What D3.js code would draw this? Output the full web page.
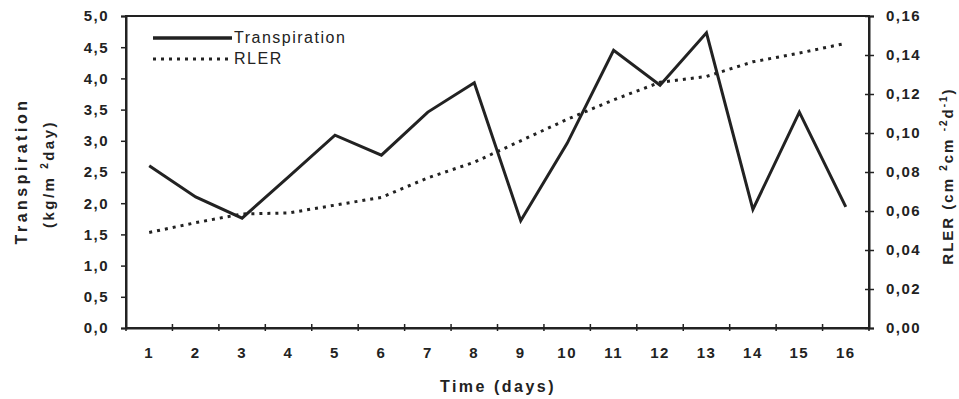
<!DOCTYPE html>
<html><head><meta charset="utf-8">
<script src="https://cdn.jsdelivr.net/npm/d3@7"></script>
<style>body{margin:0;background:#fff}svg text{font-family:"Liberation Sans",Arial,sans-serif;fill:#222}</style>
</head><body><svg id="c" width="959" height="399"></svg>
<script>
const days = [1,2,3,4,5,6,7,8,9,10,11,12,13,14,15,16];
const transpiration = [2.6,2.1,1.76,2.42,3.09,2.77,3.46,3.93,1.72,2.96,4.45,3.89,4.73,1.9,3.46,1.94];
const rler = [0.049,0.054,0.0585,0.059,0.063,0.067,0.077,0.085,0.096,0.107,0.117,0.126,0.129,0.1365,0.141,0.146];
const leftTicks = [0,0.5,1,1.5,2,2.5,3,3.5,4,4.5,5];
const rightTicks = [0,0.02,0.04,0.06,0.08,0.1,0.12,0.14,0.16];

const svg = d3.select("#c");
const L=126, R=869, T=16, B=328;
const x = d3.scaleBand().domain(days).range([L,R]);
const yL = d3.scaleLinear().domain([0,5]).range([B,T]);
const yR = d3.scaleLinear().domain([0,0.16]).range([B,T]);
const fmt1 = d => d3.format(".1f")(d).replace(".",",");
const fmt2 = d => d3.format(".2f")(d).replace(".",",");

// frame
svg.append("rect").attr("x",L).attr("y",T).attr("width",R-L).attr("height",B-T)
  .attr("fill","none").attr("stroke","#222").attr("stroke-width",2);

// left axis
const gl = svg.append("g").attr("transform",`translate(${L},0)`)
  .call(d3.axisLeft(yL).tickValues(leftTicks).tickFormat(fmt1).tickSize(5).tickPadding(12));
// right axis
const gr = svg.append("g").attr("transform",`translate(${R},0)`)
  .call(d3.axisRight(yR).tickValues(rightTicks).tickFormat(fmt2).tickSize(5).tickPadding(12));
gr.selectAll(".tick line").attr("x1",-4);
// bottom axis (ticks at band boundaries)
const gb = svg.append("g").attr("transform",`translate(0,${B})`)
  .call(d3.axisBottom(x).tickSize(0).tickPadding(19));
gb.selectAll(".tick").append("line").attr("x1",-x.bandwidth()/2).attr("x2",-x.bandwidth()/2)
  .attr("y1",-4).attr("y2",3).attr("stroke","#222").attr("stroke-width",1.5);
gb.append("line").attr("x1",R).attr("x2",R).attr("y1",-4).attr("y2",3).attr("stroke","#222").attr("stroke-width",1.5);

[gl,gr,gb].forEach(g=>{
  g.select(".domain").attr("stroke","#222").attr("stroke-width",2);
  g.selectAll(".tick line").attr("stroke","#222").attr("stroke-width",1.5);
  g.selectAll(".tick text").attr("font-size",15).attr("font-weight","bold").attr("fill","#333")
    .attr("font-family","'Liberation Sans',Arial,sans-serif").style("letter-spacing","1.5px");
});

const cx = d => x(d)+x.bandwidth()/2;
// RLER dotted
svg.append("path").datum(days.map((d,i)=>[d,rler[i]]))
  .attr("d",d3.line().x(p=>cx(p[0])).y(p=>yR(p[1])))
  .attr("fill","none").attr("stroke","#222").attr("stroke-width",3).attr("stroke-dasharray","3,5");
// Transpiration solid
svg.append("path").datum(days.map((d,i)=>[d,transpiration[i]]))
  .attr("d",d3.line().x(p=>cx(p[0])).y(p=>yL(p[1])))
  .attr("fill","none").attr("stroke","#222").attr("stroke-width",3).attr("stroke-linejoin","miter");

// legend
svg.append("line").attr("x1",153).attr("x2",232).attr("y1",38).attr("y2",38).attr("stroke","#222").attr("stroke-width",3.5);
svg.append("text").attr("x",234).attr("y",43).attr("font-size",16).style("letter-spacing","1.5px").text("Transpiration");
svg.append("line").attr("x1",153).attr("x2",232).attr("y1",59).attr("y2",59).attr("stroke","#222").attr("stroke-width",3).attr("stroke-dasharray","3,5");
svg.append("text").attr("x",234).attr("y",64).attr("font-size",16).style("letter-spacing","1.5px").text("RLER");

// axis titles
svg.append("text").attr("transform","translate(27,171) rotate(-90)").attr("text-anchor","middle")
  .attr("font-size",16).attr("font-weight","bold").style("letter-spacing","3.5px").text("Transpiration");
const t2 = svg.append("text").attr("transform","translate(54,174) rotate(-90)").attr("text-anchor","middle")
  .attr("font-size",15).attr("font-weight","bold").style("letter-spacing","2.5px");
t2.append("tspan").text("(kg/m ");
t2.append("tspan").attr("font-size",10).attr("dy",-6).text("2");
t2.append("tspan").attr("dy",6).text("day)");

const t3 = svg.append("text").attr("transform","translate(953,176) rotate(-90)").attr("text-anchor","middle")
  .attr("font-size",15).attr("font-weight","bold").style("letter-spacing","2px");
t3.append("tspan").text("RLER (cm ");
t3.append("tspan").attr("font-size",10).attr("dy",-6).text("2");
t3.append("tspan").attr("dy",6).text("cm ");
t3.append("tspan").attr("font-size",10).attr("dy",-6).text("-2");
t3.append("tspan").attr("dy",6).text("d");
t3.append("tspan").attr("font-size",10).attr("dy",-6).text("-1");
t3.append("tspan").attr("dy",6).text(")");

svg.append("text").attr("x",498).attr("y",392).attr("text-anchor","middle")
  .attr("font-size",16).attr("font-weight","bold").style("letter-spacing","2.5px").text("Time (days)");
</script></body></html>
